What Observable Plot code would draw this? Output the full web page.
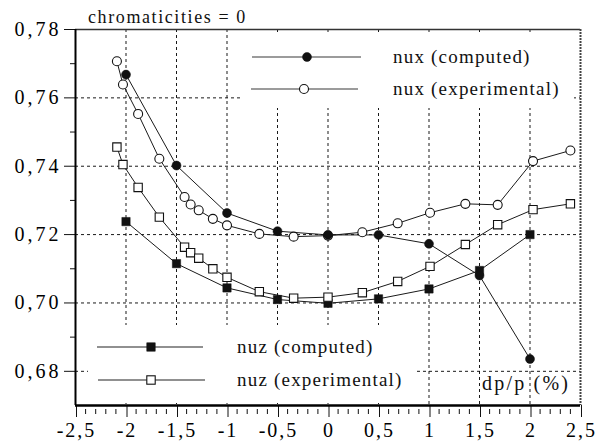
<!DOCTYPE html>
<html><head><meta charset="utf-8">
<script src="https://cdn.jsdelivr.net/npm/d3@7"></script>
<script src="https://cdn.jsdelivr.net/npm/@observablehq/plot@0.6"></script>
<style>
html,body{margin:0;padding:0;background:#fff;}
#chart svg{display:block;}
#chart svg text{letter-spacing:3px;}
</style></head><body><div id="chart"></div>
<script>
// ---- data ----
const compX = [-2, -1.5, -1, -0.5, 0, 0.5, 1, 1.5, 2];
const nuxComputed = [0.7668, 0.7402, 0.7263, 0.7210, 0.7199, 0.7199, 0.7173, 0.7080, 0.6836];
const nuzComputed = [0.7238, 0.7115, 0.7044, 0.7010, 0.6999, 0.7012, 0.7041, 0.7095, 0.7200];
const expX = [-2.09, -2.03, -1.88, -1.67, -1.42, -1.36, -1.28, -1.14, -1.0, -0.68, -0.34, 0, 0.34, 0.69, 1.01, 1.36, 1.68, 2.03, 2.40];
const nuxExperimental = [0.7707, 0.7639, 0.7553, 0.7422, 0.7310, 0.7288, 0.7271, 0.7246, 0.7227, 0.7202, 0.7194, 0.7197, 0.7207, 0.7233, 0.7264, 0.7290, 0.7287, 0.7415, 0.7446];
const nuzExperimental = [0.7456, 0.7405, 0.7338, 0.7251, 0.7163, 0.7147, 0.7131, 0.7100, 0.7075, 0.7033, 0.7014, 0.7017, 0.7030, 0.7063, 0.7107, 0.7171, 0.7229, 0.7273, 0.7290];

const xTicks = [-2.5, -2, -1.5, -1, -0.5, 0, 0.5, 1, 1.5, 2, 2.5];
const xMinor = [-2.4,-2.3,-2.2,-2.1,-1.9,-1.8,-1.7,-1.6,-1.4,-1.3,-1.2,-1.1,-0.9,-0.8,-0.7,-0.6,-0.4,-0.3,-0.2,-0.1,0.1,0.2,0.3,0.4,0.6,0.7,0.8,0.9,1.1,1.2,1.3,1.4,1.6,1.7,1.8,1.9,2.1,2.2,2.3,2.4];
const yTicks = [0.68, 0.70, 0.72, 0.74, 0.76, 0.78];
const yMinor = [0.69, 0.71, 0.73, 0.75, 0.77];
const xGrid = [-2, -1.5, -1, -0.5, 0, 0.5, 1, 1.5, 2];
const yGrid = [0.68, 0.70, 0.72, 0.74, 0.76];

const titleText = "chromaticities = 0";
const xLabelText = "dp/p (%)";
const seriesNames = ["nux (computed)", "nux (experimental)", "nuz (computed)", "nuz (experimental)"];

const toRows = (xs, ys) => xs.map((x, i) => ({x, y: ys[i]}));
const nuxC = toRows(compX, nuxComputed);
const nuzC = toRows(compX, nuzComputed);
const nuxE = toRows(expX, nuxExperimental);
const nuzE = toRows(expX, nuzExperimental);

const fmtX = d => String(d).replace(".", ",");
const fmtY = d => d3.format(".2f")(d).replace(".", ",");

const FONT = "Liberation Serif, Times New Roman, serif";
const grid = {stroke: "#000", strokeWidth: 1, strokeDasharray: "3,3", strokeOpacity: 0.9};
const lineOpt = {x: "x", y: "y", stroke: "#1a1a1a", strokeWidth: 1};

const plot = Plot.plot({
  width: 597, height: 444,
  marginLeft: 75, marginRight: 17, marginTop: 29, marginBottom: 39,
  style: {fontFamily: FONT, fontSize: "20px", background: "white", color: "black"},
  x: {domain: [-2.5, 2.5], axis: null, label: null},
  y: {domain: [0.67, 0.78], axis: null, label: null},
  marks: [
    Plot.ruleX(xGrid, grid),
    Plot.ruleY(yGrid, grid),
    Plot.line(nuxE, lineOpt),
    Plot.line(nuzE, lineOpt),
    Plot.line(nuxC, lineOpt),
    Plot.line(nuzC, lineOpt),
    Plot.dot(nuxE, {x: "x", y: "y", r: 4.5, fill: "white", stroke: "#111", strokeWidth: 1.1}),
    Plot.dot(nuzC, {x: "x", y: "y", r: 4.7, symbol: "square", fill: "#111", stroke: "#111", strokeWidth: 0.5}),
    Plot.dot(nuzE, {x: "x", y: "y", r: 4.7, symbol: "square", fill: "white", stroke: "#111", strokeWidth: 1.1}),
    Plot.dot(nuxC, {x: "x", y: "y", r: 4.5, fill: "#111", stroke: "#111", strokeWidth: 0.5}),
    Plot.ruleY([0.78], {stroke: "#333", strokeWidth: 1.5}),
    Plot.ruleX([2.5], {stroke: "#444", strokeWidth: 2, strokeDasharray: "2,1"}),
    Plot.axisY(yTicks, {anchor: "left", tickSize: 11, tickPadding: 3, tickFormat: fmtY, label: null, stroke: "#111", fontSize: 20}),
    Plot.axisY(yMinor, {anchor: "left", tickSize: 5, fill: "none", stroke: "#111", label: null}),
    Plot.axisX(xTicks, {anchor: "bottom", tickSize: 12, tickPadding: 5, tickFormat: fmtX, label: null, stroke: "#111", fontSize: 20, dx: 1}),
    Plot.axisX(xMinor, {anchor: "bottom", tickSize: 5, fill: "none", stroke: "#111", label: null, dy: 4}),
    Plot.ruleX([-2.5], {stroke: "#000", strokeWidth: 2}),
    Plot.ruleY([0.67], {stroke: "#000", strokeWidth: 2.6})
  ]
});

document.getElementById("chart").appendChild(plot);

// x tick labels: slightly tighter spacing so the last label fits
d3.select(plot).selectAll('g[aria-label="x-axis tick label"] text').style("letter-spacing", "2px");

// ---- legends and annotations (layout in pixels) ----
const svg = d3.select(plot);
const groups = plot.querySelectorAll(":scope > g");
const leg = document.createElementNS("http://www.w3.org/2000/svg", "g");
plot.insertBefore(leg, groups[2]);
const L = d3.select(leg).attr("font-family", FONT).attr("text-anchor", "start");

// white boxes hiding the grid
L.append("rect").attr("x", 240).attr("y", 35).attr("width", 334).attr("height", 73).attr("fill", "white");
L.append("rect").attr("x", 88).attr("y", 325).attr("width", 329).attr("height", 78).attr("fill", "white");

function legendItem(x1, x2, y, mx, kind, filled, text, tx, lineColor, lineWidth) {
  L.append("line").attr("x1", x1).attr("x2", x2).attr("y1", y).attr("y2", y)
    .attr("stroke", lineColor).attr("stroke-width", lineWidth);
  if (kind === "circle") {
    L.append("circle").attr("cx", mx).attr("cy", y).attr("r", 4.5)
      .attr("fill", filled ? "#111" : "white").attr("stroke", "#111").attr("stroke-width", filled ? 0.5 : 1.1);
  } else {
    L.append("rect").attr("x", mx - 4.2).attr("y", y - 4.2).attr("width", 8.4).attr("height", 8.4)
      .attr("fill", filled ? "#111" : "white").attr("stroke", "#111").attr("stroke-width", filled ? 0.5 : 1.1);
  }
  L.append("text").attr("x", tx).attr("y", y).attr("dy", "0.32em").attr("text-anchor", "start")
    .attr("font-size", 19).style("letter-spacing", "1.2px").attr("fill", "#111").text(text);
}
legendItem(252, 361, 57, 307, "circle", true, seriesNames[0], 393, "#7a7a7a", 1.6);
legendItem(251, 358, 89, 304, "circle", false, seriesNames[1], 393, "#7a7a7a", 1.6);
legendItem(97, 203, 347, 151, "square", true, seriesNames[2], 237, "#222", 1.2);
legendItem(98, 205, 380, 151, "square", false, seriesNames[3], 237, "#222", 1.2);

svg.append("text").attr("x", 88).attr("y", 23).attr("font-family", FONT).attr("font-size", 18)
  .attr("text-anchor", "start").style("letter-spacing", "1.6px").attr("fill", "#111").text(titleText);
svg.append("text").attr("x", 482).attr("y", 390).attr("font-family", FONT).attr("font-size", 20)
  .attr("text-anchor", "start").style("letter-spacing", "2.2px").attr("fill", "#111").text(xLabelText);
</script></body></html>
